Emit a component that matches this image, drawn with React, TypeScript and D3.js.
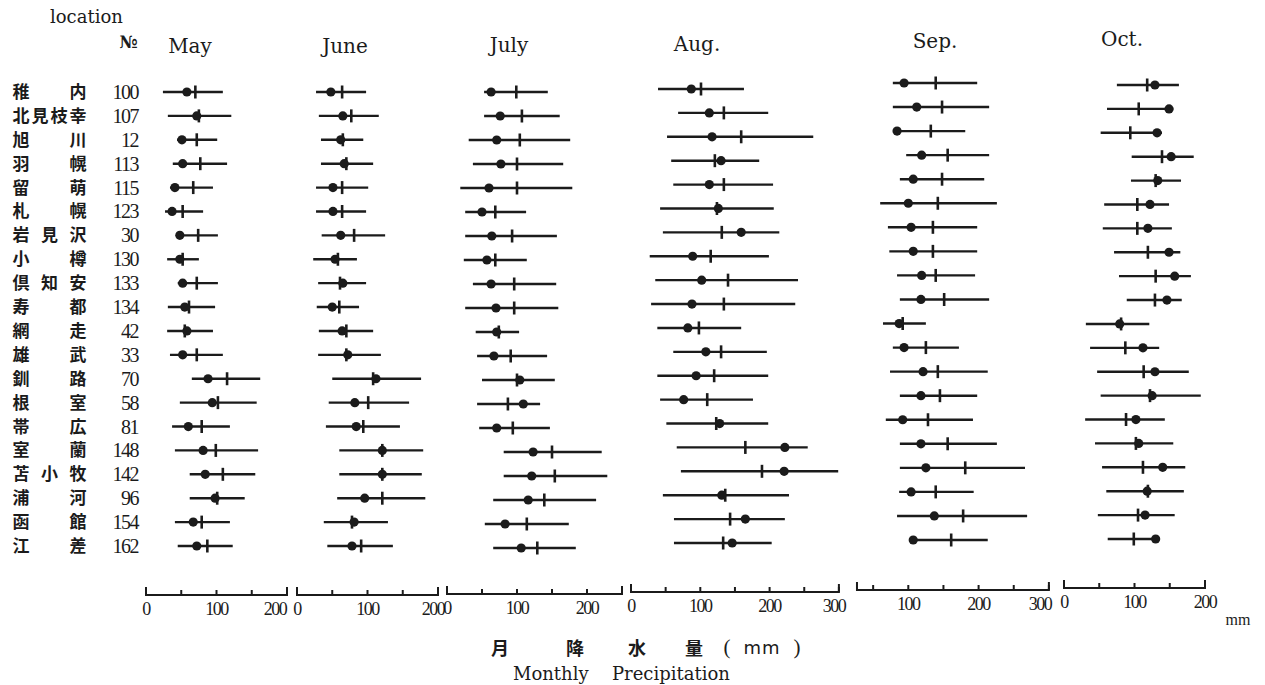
import React from 'react';
import * as d3 from 'd3';

const width = 1265;
const height = 685;
const ink = '#1b1b1b';
const serif = '"Liberation Serif", "DejaVu Serif", serif';
const wideSerif = '"DejaVu Serif", "Liberation Serif", serif';
const cjk = '"Noto Sans CJK JP", sans-serif';

const locationNames = ['稚内', '北見枝幸', '旭川', '羽幌', '留萌', '札幌', '岩見沢', '小樽', '倶知安', '寿都',
  '網走', '雄武', '釧路', '根室', '帯広', '室蘭', '苫小牧', '浦河', '函館', '江差'];
const locationNo = [100, 107, 12, 113, 115, 123, 30, 130, 133, 134, 42, 33, 70, 58, 81, 148, 142, 96, 154, 162];
const months = ['May', 'June', 'July', 'Aug.', 'Sep.', 'Oct.'];

// per location: [min, dot, tick, max] in mm
const may = [[24, 58, 70, 109], [31, 72, 75, 121], [44, 51, 72, 101], [38, 52, 77, 115], [34, 41, 67, 95],
  [27, 37, 52, 81], [44, 48, 74, 102], [30, 48, 52, 75], [45, 52, 72, 102], [31, 55, 61, 98],
  [30, 58, 55, 95], [34, 52, 72, 109], [65, 88, 115, 162], [48, 94, 102, 157], [37, 60, 79, 119],
  [41, 81, 99, 159], [62, 84, 109, 155], [62, 98, 101, 140], [41, 67, 79, 119], [45, 72, 87, 123]];
const june = [[27, 48, 64, 98], [31, 65, 77, 116], [34, 62, 65, 94], [34, 67, 70, 108], [27, 51, 64, 101],
  [27, 51, 64, 98], [35, 62, 81, 125], [23, 54, 58, 85], [30, 65, 61, 98], [28, 50, 60, 88],
  [31, 64, 70, 108], [30, 72, 70, 119], [50, 112, 108, 176], [45, 82, 101, 159], [41, 84, 94, 146],
  [60, 121, 121, 179], [60, 121, 121, 177], [57, 96, 121, 182], [38, 81, 78, 129], [43, 78, 91, 136]];
const july = [[53, 63, 99, 144], [53, 76, 107, 161], [31, 71, 104, 176], [37, 77, 100, 166], [19, 60, 100, 179],
  [26, 50, 69, 113], [26, 64, 93, 157], [24, 57, 69, 114], [37, 63, 96, 156], [26, 70, 96, 159],
  [41, 71, 74, 103], [43, 67, 91, 143], [50, 104, 100, 154], [43, 109, 87, 133], [46, 71, 94, 147],
  [81, 123, 150, 221], [81, 121, 154, 229], [66, 116, 139, 213], [54, 83, 114, 174], [66, 106, 129, 184]];
const aug = [[39, 87, 101, 163], [68, 113, 134, 198], [52, 117, 159, 263], [58, 130, 121, 185], [61, 113, 134, 205],
  [42, 126, 124, 206], [46, 159, 131, 214], [27, 89, 115, 199], [35, 102, 140, 241], [29, 88, 134, 237],
  [38, 82, 98, 159], [61, 108, 130, 196], [38, 94, 120, 198], [42, 76, 110, 176], [51, 128, 123, 198],
  [66, 222, 165, 255], [72, 221, 189, 299], [46, 131, 136, 228], [62, 165, 143, 222], [62, 146, 133, 203]];
const sep = [[78, 94, 139, 198], [78, 112, 148, 215], [81, 84, 132, 181], [97, 119, 156, 215], [88, 107, 148, 208],
  [60, 100, 142, 226], [71, 104, 135, 198], [73, 107, 135, 198], [84, 119, 139, 195], [88, 118, 151, 215],
  [64, 87, 92, 125], [78, 94, 125, 172], [74, 121, 142, 213], [88, 118, 145, 198], [68, 92, 128, 192],
  [88, 118, 156, 226], [88, 125, 181, 266], [87, 104, 139, 193], [84, 137, 178, 269], [102, 107, 161, 213]];
const oct = [[75, 129, 118, 163], [61, 149, 106, 155], [52, 132, 94, 139], [96, 152, 139, 184], [95, 133, 130, 166],
  [57, 122, 104, 149], [55, 119, 104, 153], [71, 149, 119, 165], [78, 157, 130, 180], [89, 146, 129, 167],
  [31, 79, 81, 121], [37, 112, 87, 135], [47, 129, 113, 177], [52, 125, 122, 194], [30, 102, 88, 143],
  [44, 106, 102, 155], [54, 140, 112, 172], [60, 118, 119, 170], [48, 115, 105, 157], [62, 130, 99, 130]];
const monthData = [may, june, july, aug, sep, oct];

const tickValues = [
  [0, 50, 100, 150, 200], [0, 50, 100, 150, 200], [0, 50, 100, 150, 200, 250],
  [0, 50, 100, 150, 200, 250, 300], [50, 100, 150, 200, 250, 300], [0, 50, 100, 150, 200]];
const tickLabels = [[0, 100, 200], [0, 100, 200], [0, 100, 200], [0, 100, 200, 300], [100, 200, 300], [0, 100, 200]];

// layout of each month panel (the scan is slightly skewed, so rows drift a bit)
const panels = [
  { x0: 146, k: 0.705, top: 92, bottom: 546, axisY: 595, from: 0, to: 200, tx: 190, ty: 53, lastShift: -12 },
  { x0: 297, k: 0.705, top: 92, bottom: 546, axisY: 595, from: 0, to: 200, tx: 345, ty: 53, lastShift: -5 },
  { x0: 447, k: 0.70, top: 92, bottom: 548, axisY: 594, from: 0, to: 250, tx: 509, ty: 52, lastShift: 0 },
  { x0: 631, k: 0.693, top: 89, bottom: 543, axisY: 592, from: 0, to: 300, tx: 697, ty: 51, lastShift: -5 },
  { x0: 838, k: 0.703, top: 83, bottom: 540, axisY: 590, from: 27, to: 300, tx: 935, ty: 48, lastShift: -9 },
  { x0: 1064, k: 0.705, top: 85, bottom: 539, axisY: 588, from: 0, to: 200, tx: 1122, ty: 46, lastShift: 0 },
];

function Panel({ idx }: { idx: number }) {
  const p = panels[idx];
  const x = d3.scaleLinear().domain([0, 100]).range([p.x0, p.x0 + 100 * p.k]);
  const y = d3.scalePoint<string>().domain(locationNames).range([p.top, p.bottom]);
  const rows = monthData[idx];
  const labels = tickLabels[idx];
  return (
    <g>
      <text x={p.tx} y={p.ty} textAnchor="middle" fontFamily={wideSerif} fontSize={20} fill={ink}>{months[idx]}</text>
      {rows.map((r, i) => {
        const cy = y(locationNames[i])!;
        return (
          <g key={i}>
            <line x1={x(r[0])} x2={x(r[3])} y1={cy} y2={cy} stroke={ink} strokeWidth={2.4} />
            <line x1={x(r[2])} x2={x(r[2])} y1={cy - 6.5} y2={cy + 6.5} stroke={ink} strokeWidth={2.6} />
            <circle cx={x(r[1])} cy={cy} r={4.6} fill={ink} />
          </g>
        );
      })}
      <path
        d={`M${x(p.from)},${p.axisY - 8}V${p.axisY}H${x(p.to)}V${p.axisY - 8}`}
        fill="none" stroke={ink} strokeWidth={2} />
      {tickValues[idx].map(v => (
        <line key={v} x1={x(v)} x2={x(v)} y1={p.axisY} y2={p.axisY - 5} stroke={ink} strokeWidth={2} />
      ))}
      {labels.map((v, j) => (
        <text key={v} x={x(v) + (j === labels.length - 1 ? p.lastShift : 0)} y={p.axisY + 20}
          textAnchor="middle" fontFamily={serif} fontSize={18} letterSpacing={-1.5} fill={ink}>{v}</text>
      ))}
    </g>
  );
}

export default function App() {
  const yRow = d3.scalePoint<string>().domain(locationNames).range([panels[0].top, panels[0].bottom]);
  return (
    <svg width={width} height={height} style={{ position: 'absolute', left: 0, top: 0, background: '#fff' }}>
      <text x={50} y={23} fontFamily={wideSerif} fontSize={18} fill={ink}>location</text>
      <text x={138} y={48} textAnchor="end" fontFamily={wideSerif} fontSize={17} fontWeight="bold" fill={ink}>№</text>
      {locationNames.map((name, i) => {
        const cy = yRow(name)!;
        const chars = name.split('');
        const step = 57 / (chars.length - 1);
        return (
          <g key={name}>
            {chars.map((c, j) => (
              <text key={j} x={21 + j * step} y={cy + 6} textAnchor="middle" fontFamily={cjk}
                fontSize={17} fontWeight="bold" fill={ink}>{c}</text>
            ))}
            <text x={138} y={cy + 7} textAnchor="end" fontFamily={serif} fontSize={20} letterSpacing={-1.5}
              fill={ink}>{locationNo[i]}</text>
          </g>
        );
      })}
      {panels.map((_, i) => <Panel key={i} idx={i} />)}
      <text x={1238} y={625} textAnchor="middle" fontFamily={serif} fontSize={16} fill={ink}>mm</text>
      {['月', '降', '水', '量'].map((c, j) => (
        <text key={c} x={[500, 575, 637, 694][j]} y={655} textAnchor="middle" fontFamily={cjk}
          fontSize={18} fontWeight="bold" fill={ink}>{c}</text>
      ))}
      <text x={727} y={654} textAnchor="middle" fontFamily={serif} fontSize={21} fill={ink}>(</text>
      <text x={762} y={654} textAnchor="middle" fontFamily={'"DejaVu Sans", sans-serif'} fontSize={18}
        letterSpacing={1} fill={ink}>mm</text>
      <text x={797} y={654} textAnchor="middle" fontFamily={serif} fontSize={21} fill={ink}>)</text>
      <text x={513} y={680} fontFamily={wideSerif} fontSize={18} fill={ink}>Monthly</text>
      <text x={612} y={680} fontFamily={wideSerif} fontSize={18} fill={ink}>Precipitation</text>
    </svg>
  );
}
